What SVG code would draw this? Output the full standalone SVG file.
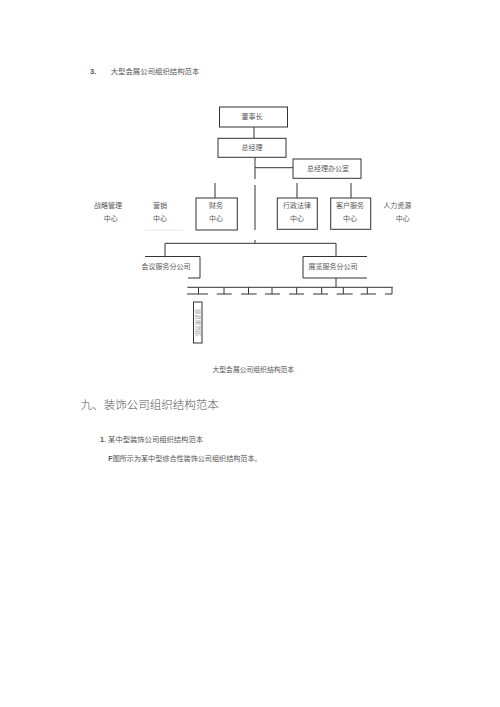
<svg xmlns="http://www.w3.org/2000/svg" width="500" height="707" viewBox="0 0 500 707">
<style>
.t{font-family:"Liberation Serif","Noto Sans CJK SC",serif;fill:#555;font-size:7px;text-anchor:middle}
.s{font-family:"Liberation Sans","Noto Sans CJK SC",sans-serif;fill:#555;font-size:7.2px}
.box{fill:#fff;stroke:#333;stroke-width:1}
.ln{stroke:#333;stroke-width:1;fill:none}
</style>
<rect width="500" height="707" fill="#fff"/>
<text class="s" x="90" y="73.5" style="font-size:7.5px;font-weight:bold">3.</text>
<text class="s" x="110.7" y="73.5" style="font-size:7.4px">大型会展公司组织结构范本</text>

<g id="connectors">
<line class="ln" x1="254" y1="127" x2="254" y2="138"/>
<line class="ln" x1="255" y1="157" x2="255" y2="179"/>
<line class="ln" x1="255" y1="167.7" x2="293" y2="167.7"/>
<line class="ln" x1="255" y1="185" x2="255" y2="230"/>
<line class="ln" x1="215" y1="183" x2="215" y2="198"/>
<line class="ln" x1="297" y1="183" x2="297" y2="198"/>
<line class="ln" x1="351" y1="183" x2="351" y2="198"/>
<line class="ln" x1="255" y1="240" x2="255" y2="243.3"/>
<line class="ln" x1="165" y1="243.3" x2="336" y2="243.3"/>
<line class="ln" x1="165" y1="243.3" x2="165" y2="256.5"/>
<line class="ln" x1="336" y1="243.3" x2="336" y2="256.5"/>
<line x1="145" y1="230" x2="183" y2="230" stroke="#ddd" stroke-width="0.8"/>
<line class="ln" x1="336" y1="278" x2="336" y2="287.3"/>
<line class="ln" x1="187.3" y1="287.3" x2="392.7" y2="287.3"/>
<path class="ln" d="M198.5 287.3V294M187 294H208 M224 287.3V294M216.7 294H231.7 M248.5 287.3V294M241 294H256.7 M272 287.3V294M265 294H280 M296.7 287.3V294M289 294H304 M321.7 287.3V294M313 294H328 M343.3 287.3V294M336.7 294H352.7 M367.3 287.3V294M360.7 294H376 M392 287.3V294H385"/>
</g>

<g id="n-dongshizhang"><rect class="box" x="219.5" y="107" width="68" height="20"/><text class="t" x="252" y="118.5">董事长</text></g>
<g id="n-zongjingli"><rect class="box" x="218" y="138.3" width="68" height="19"/><text class="t" x="252" y="150.3">总经理</text></g>
<g id="n-zjlbgs"><rect class="box" x="293" y="159" width="68" height="19.3"/><text class="t" x="328" y="171">总经理办公室</text></g>
<g id="n-zhanlue"><text class="t" x="108" y="208.2">战略管理</text><text class="t" x="110.7" y="220.8">中心</text></g>
<g id="n-yingxiao"><text class="t" x="160" y="208.2">营销</text><text class="t" x="160" y="220.8">中心</text></g>
<g id="n-caiwu"><rect class="box" x="196" y="198" width="41.3" height="32"/><text class="t" x="216" y="208.2">财务</text><text class="t" x="216" y="220.8">中心</text></g>
<g id="n-xingzheng"><rect class="box" x="277.3" y="198" width="40" height="31.3"/><text class="t" x="297" y="208">行政法律</text><text class="t" x="297" y="220.8">中心</text></g>
<g id="n-kehu"><rect class="box" x="330.7" y="198" width="40" height="31.3"/><text class="t" x="350" y="208">客户服务</text><text class="t" x="350" y="220.8">中心</text></g>
<g id="n-renli"><text class="t" x="397.3" y="207.5">人力资源</text><text class="t" x="402.7" y="220.5">中心</text></g>
<g id="n-huiyi"><path class="ln" d="M145 256.5H200V278H188"/><text class="t" x="166" y="269.2">会议服务分公司</text></g>
<g id="n-zhanlan"><path class="ln" d="M367 256.5H303V278H367"/><text class="t" x="333" y="268.5">展览服务分公司</text></g>
<g id="n-small"><rect class="box" x="193.5" y="302" width="8.5" height="41"/><text class="t" transform="translate(197.75 322.5) rotate(90)" y="1.8" style="font-size:5.5px;fill:#999">展览策划部</text></g>

<text class="t" x="253.3" y="371.7" style="font-size:6.8px">大型会展公司组织结构范本</text>
<text class="s" x="80.7" y="409.2" style="font-size:11.5px;fill:#555;font-weight:300;font-family:'Liberation Serif','Noto Sans CJK SC',serif">九、装饰公司组织结构范本</text>
<text class="s" x="100" y="441.8" style="font-size:7.3px"><tspan style="font-weight:bold">1</tspan>. 某中型装饰公司组织结构范本</text>
<text class="s" x="108.3" y="460.8" style="font-size:7.1px"><tspan style="font-weight:bold">F</tspan>图所示为某中型综合性装饰公司组织结构范本。</text>
</svg>
